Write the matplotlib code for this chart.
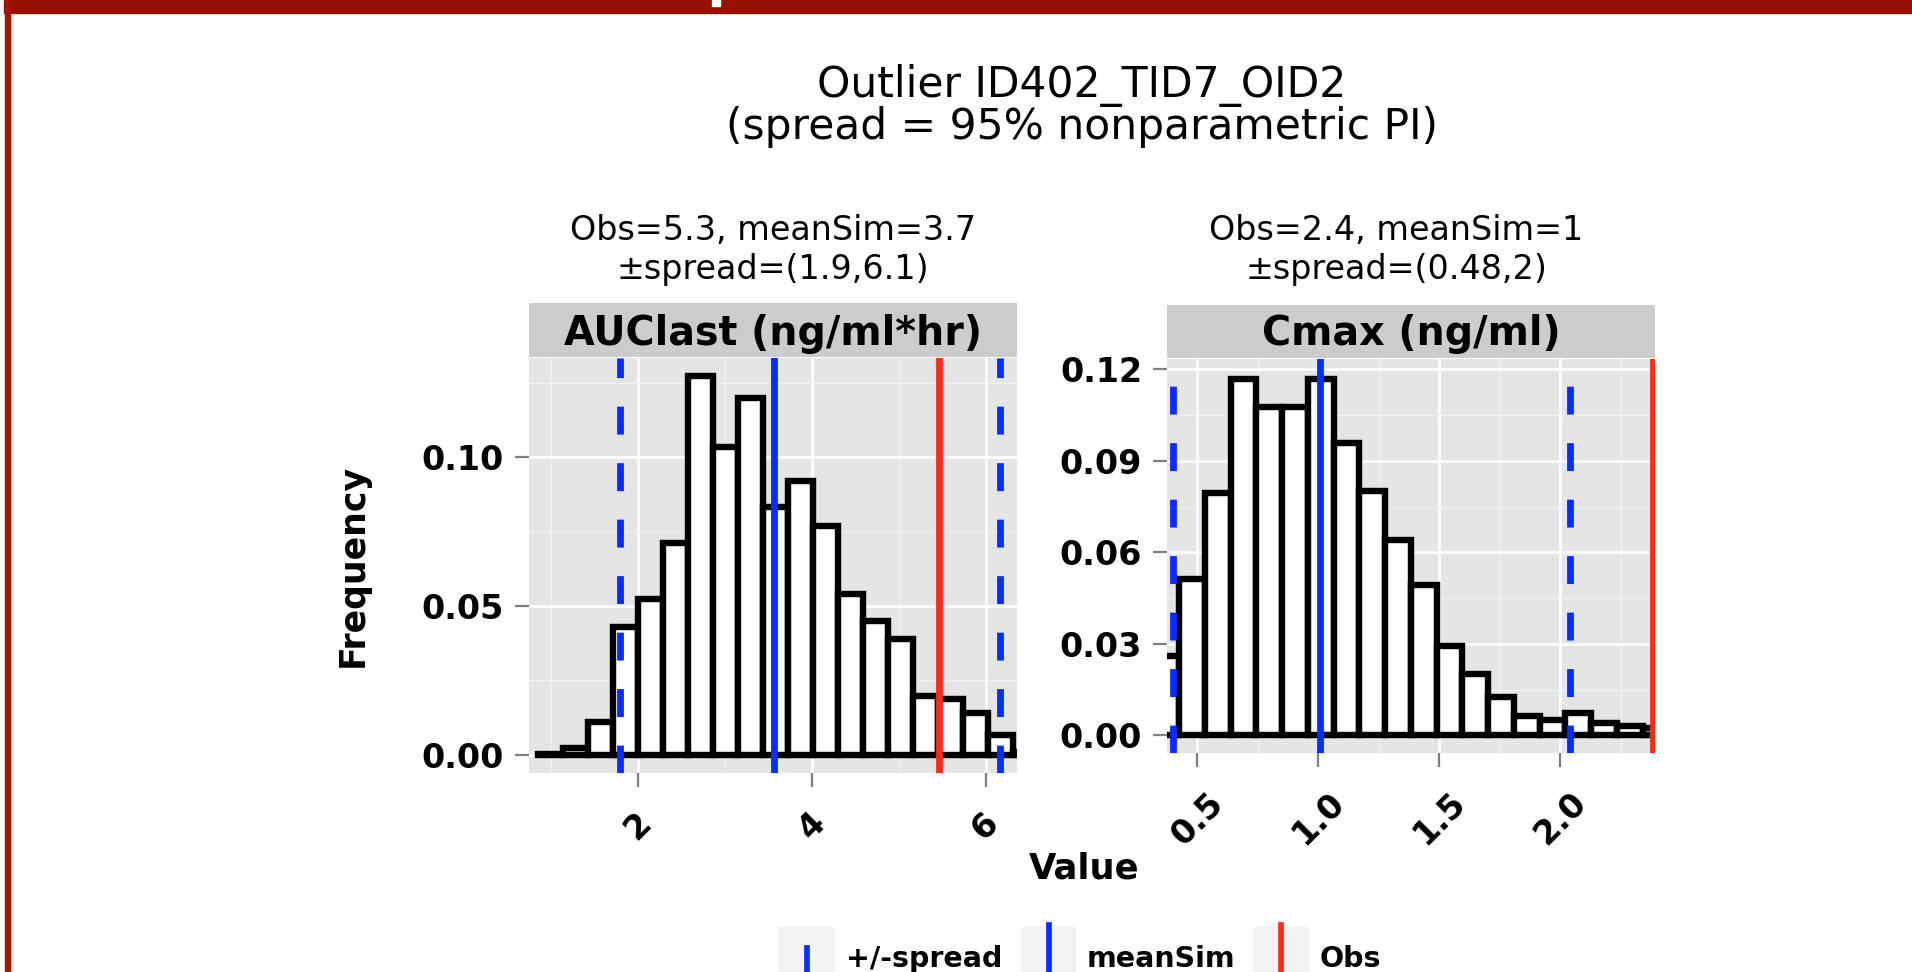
import matplotlib
matplotlib.use('Agg')
import matplotlib.pyplot as plt
from matplotlib.patches import Rectangle
from matplotlib.lines import Line2D
import numpy as np

# AUClast histogram
auc_bin_start = 0.84
auc_bin_width = 0.288
auc_freq = [0.0004, 0.0022, 0.0109, 0.0430, 0.0522, 0.0710, 0.1272, 0.1033,
            0.1198, 0.0831, 0.0920, 0.0769, 0.0539, 0.0449, 0.0390, 0.0196,
            0.0188, 0.0140, 0.0067, 0.0010]
auc_obs = 5.46
auc_mean = 3.56
auc_spread = [1.79, 6.17]

# Cmax histogram
cmax_bin_start = 0.317
cmax_bin_width = 0.1065
cmax_freq = [0.0260, 0.0514, 0.0793, 0.1170, 0.1077, 0.1077, 0.1170, 0.0959,
             0.0802, 0.0642, 0.0492, 0.0292, 0.0202, 0.0124, 0.0062, 0.0051,
             0.0073, 0.0040, 0.0030, 0.0025]
cmax_obs = 2.383
cmax_mean = 1.008
cmax_spread = [0.397, 2.041]

auc_xticks = [2, 4, 6]
auc_xlabels = ['2', '4', '6']
auc_xminor = [1, 3, 5]
auc_yticks = [0.0, 0.05, 0.10]
auc_ylabels = ['0.00', '0.05', '0.10']
auc_yminor = [0.025, 0.075, 0.125]

cmax_xticks = [0.5, 1.0, 1.5, 2.0]
cmax_xlabels = ['0.5', '1.0', '1.5', '2.0']
cmax_xminor = [0.75, 1.25, 1.75, 2.25]
cmax_yticks = [0.0, 0.03, 0.06, 0.09, 0.12]
cmax_ylabels = ['0.00', '0.03', '0.06', '0.09', '0.12']
cmax_yminor = [0.015, 0.045, 0.075, 0.105]

main_title = ['Outlier ID402_TID7_OID2', '(spread = 95% nonparametric PI)']
auc_title = ['Obs=5.3, meanSim=3.7', '±spread=(1.9,6.1)']
cmax_title = ['Obs=2.4, meanSim=1', '±spread=(0.48,2)']
strip_labels = ['AUClast (ng/ml*hr)', 'Cmax (ng/ml)']
legend_labels = ['+/-spread', 'meanSim', 'Obs']

BLUE = '#0A2DFF'
RED = '#FF2A1A'
PANEL = '#E5E5E5'
W, H = 1912, 972


def fx(x):
    return x / W


def fy(y):
    return 1 - y / H


def box(l, t, r, b):
    return [fx(l), fy(b), fx(r) - fx(l), fy(t) - fy(b)]


def panel(ax, start, width, freq, spread, mean, obs, xlim, ylim,
          xt, xl, xm, yt, yl, ym):
    ax.set_facecolor(PANEL)
    left = start + width * np.arange(len(freq))
    ax.bar(left, freq, width=width, align='edge', color='white',
           edgecolor='black', linewidth=4.6, zorder=2)
    for s in spread:
        ax.axvline(s, color=BLUE, lw=4.9, linestyle=(0, (4.1, 4.2)), zorder=3)
    ax.axvline(mean, color=BLUE, lw=4.9, zorder=3)
    ax.axvline(obs, color=RED, lw=4.9, zorder=3)
    ax.set_xlim(xlim)
    ax.set_ylim(ylim)
    ax.set_xticks(xt)
    ax.set_xticklabels(xl, rotation=45, ha='center', va='top', fontweight='bold')
    ax.set_yticks(yt)
    ax.set_yticklabels(yl, fontweight='bold')
    ax.set_xticks(xm, minor=True)
    ax.set_yticks(ym, minor=True)
    ax.grid(which='major', color='white', lw=1.9)
    ax.grid(which='minor', color='#F2F2F2', lw=0.9)
    ax.set_axisbelow(True)
    ax.tick_params(which='major', length=10, width=1.6, color='#7F7F7F',
                   labelsize=24, labelcolor='black')
    ax.tick_params(axis='x', which='major', pad=14)
    ax.tick_params(axis='y', which='major', pad=8)
    ax.tick_params(which='minor', length=0)
    for sp in ax.spines.values():
        sp.set_visible(False)


def strip(rect, label, xc):
    s = fig.add_axes(rect)
    s.set_facecolor('#CCCCCC')
    s.set_xticks([])
    s.set_yticks([])
    for sp in s.spines.values():
        sp.set_visible(False)
    fig.text(fx(xc), fy(345), label, ha='center', va='baseline',
             fontsize=28.5, fontweight='bold')


fig = plt.figure(figsize=(W / 100, H / 100), dpi=100)

ax1 = fig.add_axes(box(529, 358, 1017, 773))
panel(ax1, auc_bin_start, auc_bin_width, auc_freq, auc_spread, auc_mean, auc_obs,
      (0.742, 6.362), (-0.0061, 0.1333),
      auc_xticks, auc_xlabels, auc_xminor, auc_yticks, auc_ylabels, auc_yminor)
strip(box(529, 303, 1017, 357), strip_labels[0], 773)

ax2 = fig.add_axes(box(1167, 359, 1655, 753))
panel(ax2, cmax_bin_start, cmax_bin_width, cmax_freq, cmax_spread, cmax_mean, cmax_obs,
      (0.374, 2.391), (-0.0058, 0.1234),
      cmax_xticks, cmax_xlabels, cmax_xminor, cmax_yticks, cmax_ylabels, cmax_yminor)
strip(box(1167, 305, 1655, 358), strip_labels[1], 1411)

# titles
fig.text(fx(1082), fy(97), main_title[0], ha='center', va='baseline', fontsize=30.5)
fig.text(fx(1082), fy(139), main_title[1], ha='center', va='baseline', fontsize=30.5)
for xc, lines in [(773, auc_title), (1396, cmax_title)]:
    fig.text(fx(xc), fy(240), lines[0], ha='center', va='baseline', fontsize=24)
    fig.text(fx(xc), fy(279), lines[1], ha='center', va='baseline', fontsize=24)

fig.text(fx(353), fy(565), 'Frequency', rotation=90, ha='center', va='center',
         fontsize=25, fontweight='bold')
fig.text(fx(1084), fy(868), 'Value', ha='center', va='center',
         fontsize=25.5, fontweight='bold')

# legend at the bottom (cut by the slide edge)
keys = [(778, 835), (1021, 1076), (1253, 1309)]
key_styles = [(BLUE, (0, (4.9, 4.9))), (BLUE, '-'), (RED, '-')]
for (l, r), lab, (col, ls) in zip(keys, legend_labels, key_styles):
    fig.add_artist(Rectangle((fx(l), fy(995)), fx(r) - fx(l), fy(927) - fy(995),
                             transform=fig.transFigure, facecolor='#F2F2F2',
                             edgecolor='none'))
    xc = (l + r) / 2
    fig.add_artist(Line2D([fx(xc), fx(xc)], [fy(983), fy(925)], transform=fig.transFigure,
                          color=col, lw=4.1, linestyle=ls))
    fig.text(fx(r + 11), fy(967), lab, ha='left', va='baseline',
             fontsize=20.5, fontweight='bold')

# slide frame
fig.add_artist(Rectangle((fx(4), fy(13)), 1 - fx(4), fy(0) - fy(13),
                         transform=fig.transFigure, color='#961100', zorder=10))
fig.add_artist(Rectangle((fx(5), 0), fx(10) - fx(5), 1,
                         transform=fig.transFigure, color='#A51400', zorder=10))
fig.add_artist(Rectangle((fx(712), fy(6)), fx(8), fy(0) - fy(6),
                         transform=fig.transFigure, color='white', zorder=11))

fig.savefig('out.png', dpi=100, facecolor='white')
